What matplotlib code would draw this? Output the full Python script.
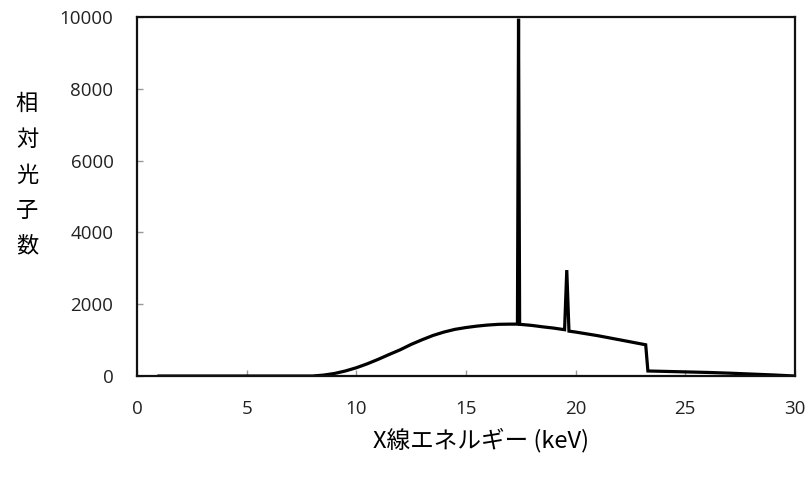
import matplotlib.pyplot as plt

plt.rcParams['font.family'] = ['Open Sans', 'Noto Sans CJK JP', 'DejaVu Sans']

# X-ray spectrum
energy = [1, 8, 8.5, 9, 9.5, 10, 10.5, 11, 11.5, 12, 12.5, 13, 13.5, 14, 14.5, 15,
          15.5, 16, 16.5, 17, 17.35, 17.4, 17.45, 18, 18.5, 19, 19.5, 19.6, 19.7,
          20, 21, 22, 23.2, 23.3, 24, 25, 26, 27, 28, 29, 30]
counts = [0, 0, 25, 70, 140, 230, 340, 465, 600, 730, 880, 1010, 1130, 1225, 1300, 1350,
          1390, 1420, 1440, 1445, 1445, 9950, 1440, 1410, 1370, 1335, 1290, 2950, 1250,
          1225, 1125, 1010, 870, 140, 130, 115, 100, 80, 55, 30, 0]

x_ticks = [0, 5, 10, 15, 20, 25, 30]
y_ticks = [0, 2000, 4000, 6000, 8000, 10000]

fig = plt.figure(figsize=(8.11, 4.83), dpi=100)
ax = fig.add_axes([0.169, 0.2215, 0.811, 0.7433])

ax.plot(energy, counts, color='black', linewidth=2.3, solid_joinstyle='miter')

ax.set_xlim(0, 30)
ax.set_ylim(0, 10000)
ax.set_xticks(x_ticks)
ax.set_yticks(y_ticks)
ax.tick_params(direction='in', length=4, width=1, color='#999999',
               labelsize=13.5, labelcolor='#222222')
ax.tick_params(axis='x', pad=17)
ax.tick_params(axis='y', pad=17)
for s in ax.spines.values():
    s.set_linewidth(1.6)
    s.set_color('#111111')

fig.text(27 / 811, 1 - 175 / 483, "相\n対\n光\n子\n数", ha='center', va='center',
         fontsize=16, linespacing=1.7, family=['Noto Sans CJK JP', 'DejaVu Sans'])
fig.text(481 / 811, 1 - 440 / 483, "X線エネルギー (keV)", ha='center', va='center',
         fontsize=17, family=['Noto Sans CJK JP', 'DejaVu Sans'])

fig.savefig('out.png', dpi=100)
